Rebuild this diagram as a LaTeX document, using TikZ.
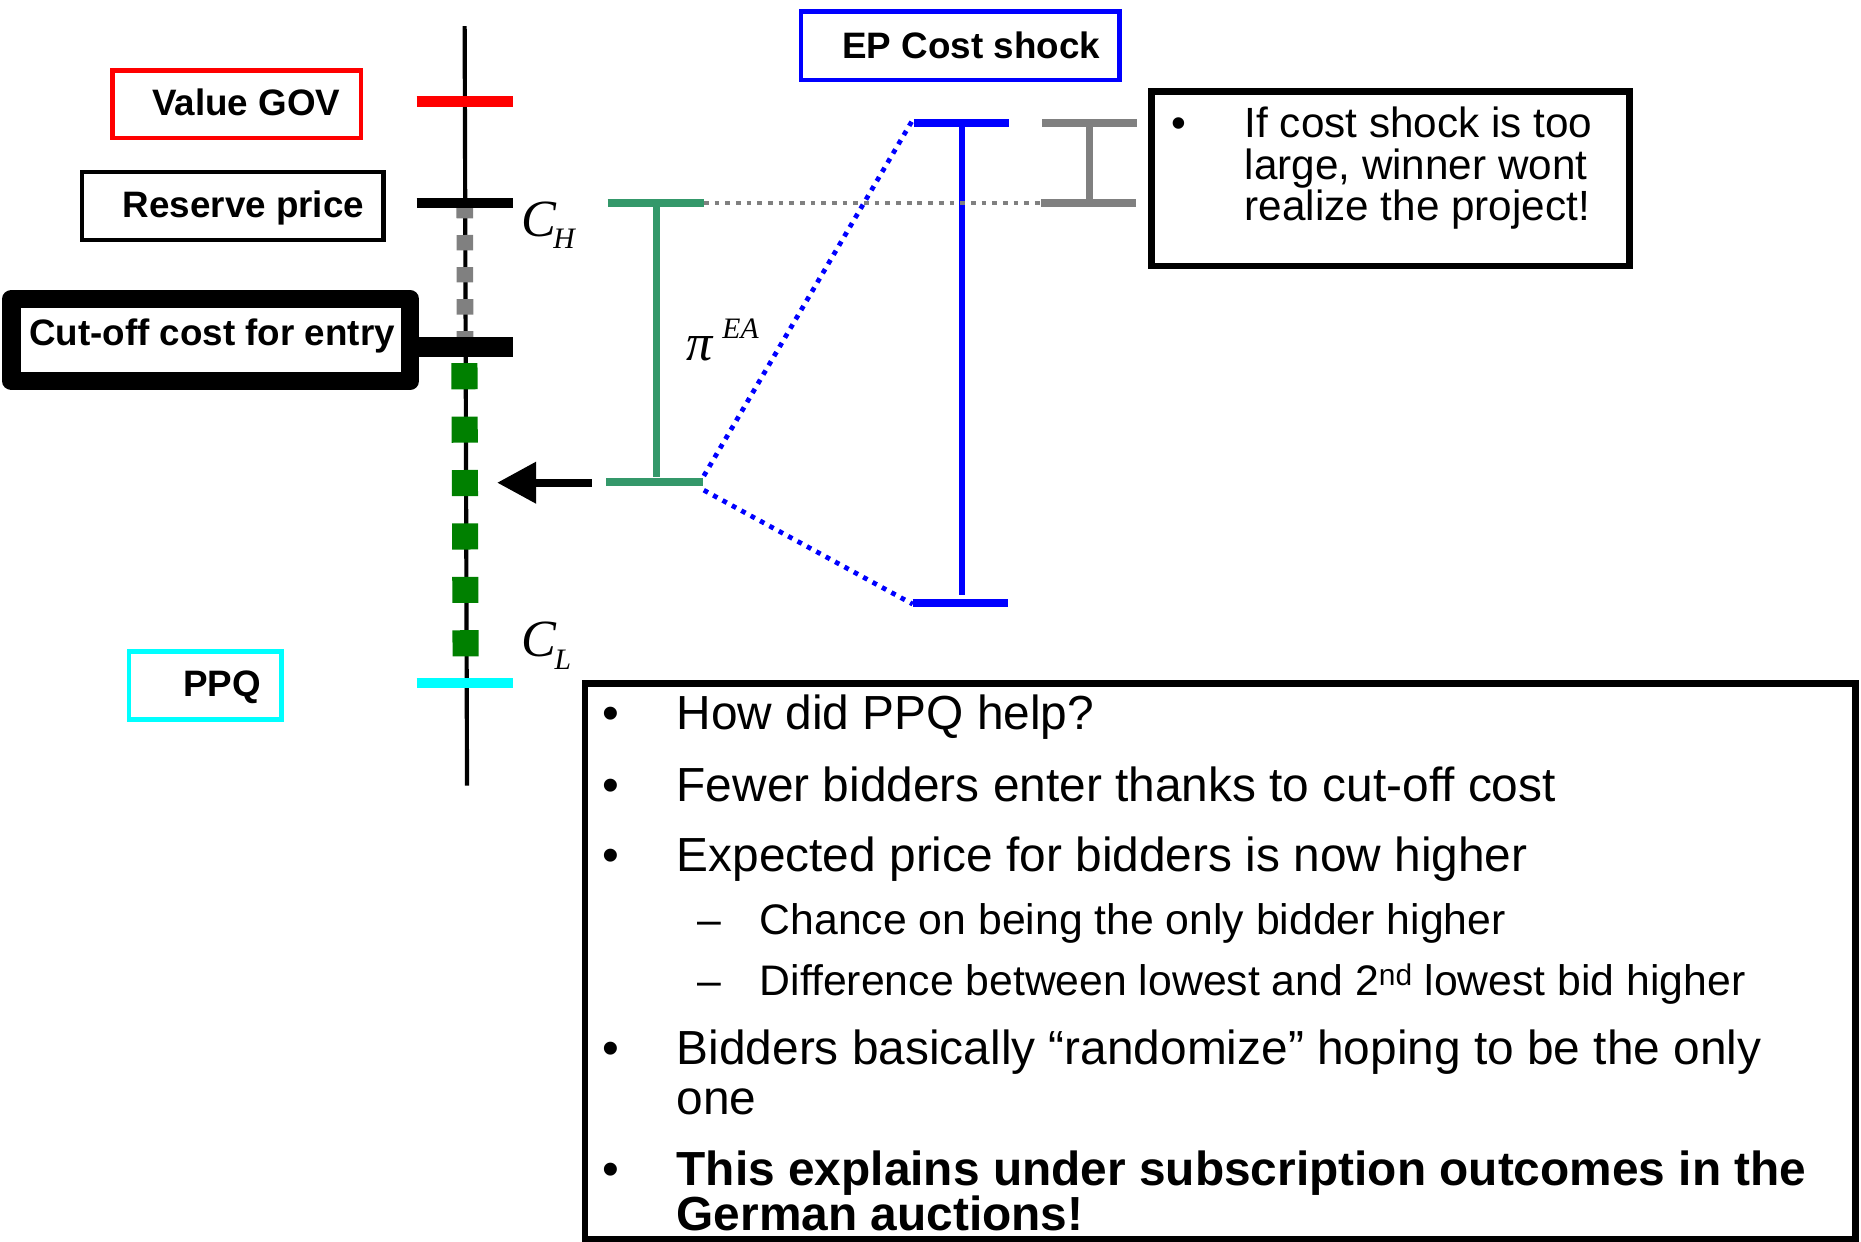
\documentclass[tikz,border=0pt]{standalone}
\usepackage{fontspec}
\setmainfont{Liberation Sans}
\newfontfamily\timesfont{Liberation Serif}
\usetikzlibrary{arrows.meta}
\definecolor{seag}{RGB}{52,152,106}
\definecolor{sqgreen}{RGB}{0,128,0}
\definecolor{midgray}{RGB}{128,128,128}
\definecolor{pcyan}{RGB}{0,255,255}
\definecolor{pblue}{RGB}{0,0,255}
\definecolor{pred}{RGB}{255,0,0}
\begin{document}
\begin{tikzpicture}[x=1pt,y=-1pt,
  lbl/.style={font=\fontsize{31}{31}\selectfont\bfseries, inner sep=0pt, anchor=base east},
  bodytxt/.style={font=\fontsize{40.3}{40.3}\selectfont, inner sep=0pt, anchor=base west},
  boldtxt/.style={font=\fontsize{40.3}{40.3}\selectfont\bfseries, inner sep=0pt, anchor=base west},
  subtxt/.style={font=\fontsize{36}{36}\selectfont, inner sep=0pt, anchor=base west},
  rtxt/.style={font=\fontsize{35.6}{35.6}\selectfont, inner sep=0pt, anchor=base west},
  bulletA/.style={font=\fontsize{40.3}{40.3}\selectfont, inner sep=0pt, anchor=base},
  bulletR/.style={font=\fontsize{35.6}{35.6}\selectfont, inner sep=0pt, anchor=base},
  dashA/.style={font=\fontsize{36}{36}\selectfont, inner sep=0pt, anchor=base},
  bigit/.style={font=\timesfont\itshape\fontsize{44}{44}\selectfont, inner sep=0pt, anchor=base west},
  smallit/.style={font=\timesfont\itshape\fontsize{25}{25}\selectfont, inner sep=0pt, anchor=base west},
  tickline/.style={line width=8.5pt},
  barline/.style={line width=6.3pt},
  thinbox/.style={line width=3.7pt},
  medbox/.style={line width=5.6pt},
  sqdots/.style={line width=4pt, dash pattern=on 4pt off 5pt}
]
\useasboundingbox (0,0) rectangle (1568,1046);

% ---------- axis ----------
\coordinate (axtop) at (391.5,22);
\coordinate (axbot) at (393.5,662);
\draw[line width=3.5pt] (axtop) -- (axbot);
% gray dashes between reserve price and cut-off
\coordinate (gds) at (391.6,171);
\coordinate (gde) at (391.8,284);
\draw[midgray, line width=14pt, dash pattern=on 13pt off 14pt] (gds) -- (gde);
% green squares
\coordinate (sqs) at (391.3,306);
\coordinate (sqe) at (392.3,553);
\draw[sqgreen, line width=22pt, dash pattern=on 22pt off 23pt] (sqs) -- (sqe);

% ---------- ticks ----------
\coordinate (tr1) at (351,85.5);  \coordinate (tr2) at (432,85.5);
\coordinate (tb1) at (351,171);   \coordinate (tb2) at (432,171);
\coordinate (tc1) at (345,292.5); \coordinate (tc2) at (432,292.5);
\coordinate (tq1) at (351,575.5); \coordinate (tq2) at (432,575.5);
\draw[tickline, pred] (tr1) -- (tr2);
\draw[tickline] (tb1) -- (tb2);
\draw[line width=17pt] (tc1) -- (tc2);
\draw[tickline, pcyan] (tq1) -- (tq2);

% ---------- left labels ----------
\draw[thinbox, pred] (94.9,59.5) rectangle (304.1,116.2);
\node[lbl] (gov) at (287,97.7) {Value GOV};
\draw[thinbox] (68.9,144.9) rectangle (323.1,202.1);
\node[lbl] (res) at (307,183) {Reserve price};
\draw[line width=15.5pt, line join=round] (9.75,251.75) rectangle (345.25,321.25);
\node[lbl] (cut) at (333,290.7) {Cut-off cost for entry};
\draw[thinbox, pcyan] (108.9,548.9) rectangle (237.1,606.1);
\node[lbl] (ppq) at (220,587) {PPQ};

% ---------- C_H, C_L ----------
\node[bigit] (chC) at (439,199.6) {C};
\node[smallit] (chH) at (466,209) {H};
\node[bigit] (clC) at (439,553) {C};
\node[smallit] (clL) at (467,564.5) {L};

% ---------- arrow ----------
\coordinate (arS) at (498.5,406.7);
\coordinate (arE) at (418.8,406.7);
\draw[line width=7pt, -{Triangle[length=33pt,width=33.5pt]}] (arS) -- (arE);

% ---------- green I-bar ----------
\coordinate (gt1) at (512,171); \coordinate (gt2) at (593,171);
\coordinate (gb1) at (511,406); \coordinate (gb2) at (592,406);
\coordinate (gvt) at (553,171); \coordinate (gvb) at (553,402);
\draw[barline, seag] (gt1) -- (gt2);
\draw[barline, seag] (gb1) -- (gb2);
\draw[barline, seag] (gvt) -- (gvb);
\node[bigit] (pi) at (578,304) {π};
\node[smallit] (ea) at (608.5,285) {EA};

% ---------- blue I-bar ----------
\coordinate (bt1) at (770,103.5); \coordinate (bt2) at (850.5,103.5);
\coordinate (bb1) at (769,508);   \coordinate (bb2) at (849,508);
\coordinate (bvt) at (810.5,103.5); \coordinate (bvb) at (810.5,501);
\draw[barline, pblue] (bt1) -- (bt2);
\draw[barline, pblue] (bb1) -- (bb2);
\draw[line width=5.7pt, pblue] (bvt) -- (bvb);

% blue dotted connectors
\coordinate (du1) at (593,401); \coordinate (du2) at (769,101);
\coordinate (dl1) at (593,413); \coordinate (dl2) at (769,509);
\draw[pblue, sqdots] (du1) -- (du2);
\draw[pblue, sqdots] (dl1) -- (dl2);

% ---------- gray I-bar ----------
\coordinate (yt1) at (878,103.5); \coordinate (yt2) at (958,103.5);
\coordinate (yb1) at (877,171);   \coordinate (yb2) at (957,171);
\coordinate (yvt) at (918,103.5); \coordinate (yvb) at (918,168);
\draw[barline, midgray] (yt1) -- (yt2);
\draw[barline, midgray] (yb1) -- (yb2);
\draw[barline, midgray] (yvt) -- (yvb);
% gray dotted line
\draw[midgray, sqdots] (gt2) -- (yb1);

% ---------- EP Cost shock ----------
\draw[thinbox, pblue] (674.9,9.6) rectangle (943.1,67.2);
\node[lbl] (ep) at (927,49) {EP Cost shock};

% ---------- right box ----------
\draw[medbox] (970.3,77.3) rectangle (1373.2,224.2);
\node[bulletR] (rb) at (993.5,116) {•};
\node[rtxt] (r1) at (1048.5,116) {If cost shock is too};
\node[rtxt] (r2) at (1048.5,151) {large, winner wont};
\node[rtxt] (r3) at (1048.5,186) {realize the project!};

% ---------- bottom box ----------
\draw[medbox] (492.8,575.8) rectangle (1563.2,1044);
\node[bulletA] (b1) at (514.5,615) {•};
\node[bodytxt] (t1) at (570,615) {How did PPQ help?};
\node[bulletA] (b2) at (514.5,675) {•};
\node[bodytxt] (t2) at (570,675) {Fewer bidders enter thanks to cut-off cost};
\node[bulletA] (b3) at (514.5,734) {•};
\node[bodytxt] (t3) at (570,734) {Expected price for bidders is now higher};
\node[dashA] (d1) at (597.5,787.5) {–};
\node[subtxt] (s1) at (640,787.5) {Chance on being the only bidder higher};
\node[dashA] (d2) at (597.5,839) {–};
\node[subtxt] (s2) at (640,839) {Difference between lowest and 2\textsuperscript{nd} lowest bid higher};
\node[bulletA] (b4) at (514.5,897) {•};
\node[bodytxt] (t4) at (570,897) {Bidders basically “randomize” hoping to be the only};
\node[bodytxt] (t4b) at (570,939) {one};
\node[bulletA] (b5) at (514.5,998.5) {•};
\node[boldtxt] (t5) at (570,998.5) {This explains under subscription outcomes in the};
\node[boldtxt] (t5b) at (570,1037) {German auctions!};
\end{tikzpicture}
\end{document}
